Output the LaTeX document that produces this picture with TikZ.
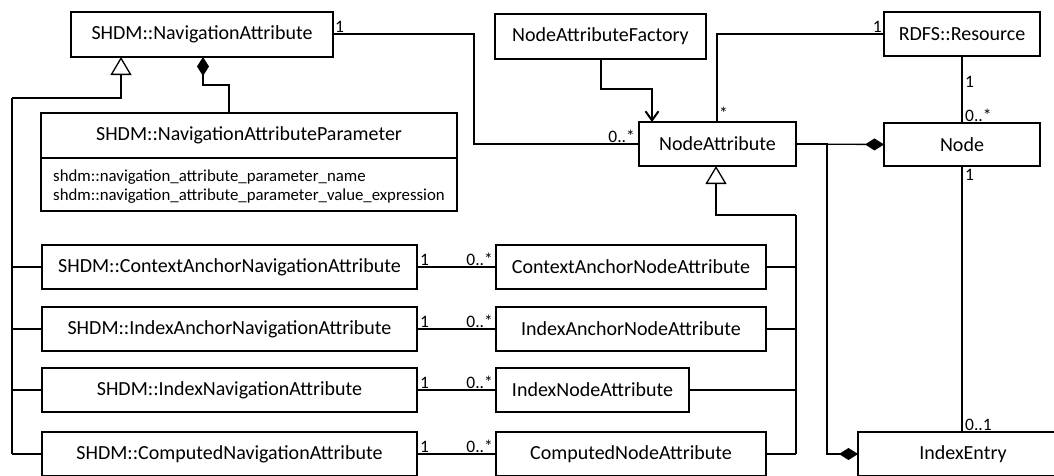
\documentclass[tikz,border=0pt]{standalone}
\usepackage{fontspec}
\setmainfont{Carlito}
\usetikzlibrary{arrows.meta}
\tikzset{
  box/.style={draw, line width=1.6pt, rectangle, inner sep=0pt, outer sep=0pt,
    minimum height=44pt, font=\fontsize{20}{24}\selectfont},
  title/.style={inner sep=0pt, font=\fontsize{20}{24}\selectfont},
  attrs/.style={inner sep=0pt, align=left, font=\fontsize{16.8}{18.8}\selectfont},
  assoc/.style={line width=1.3pt},
  genl/.style={line width=2.2pt},
  mult/.style={inner sep=1pt, font=\fontsize{17.5}{19}\selectfont},
  gentip/.style={-{Triangle[open, length=18pt, width=21pt, line width=1.3pt]}},
  comptip/.style={-{Diamond[length=19pt, width=12pt]}},
  usetip/.style={-{Straight Barb[length=9pt, width=13pt, line width=2pt]}},
}
\begin{document}
\begin{tikzpicture}[x=1pt, y=-1pt]
\useasboundingbox (0,0) rectangle (1054,475);
\clip (0,0) rectangle (1054,475);

% ---- classes ----
\node[box, minimum width=262pt, minimum height=45pt] (navattr) at (202,34.5) {SHDM::NavigationAttribute};
\node[box, minimum width=416pt, minimum height=98pt] (param) at (249,162) {};
\node[title] (paramtitle) at (249,135.5) {SHDM::NavigationAttributeParameter};
\coordinate (paramsep) at (0,158);
\draw[line width=1.6pt] (param.west |- paramsep) -- (param.east |- paramsep);
\node[attrs, anchor=west] (paramattrs) at (53,187)
  {shdm::navigation\_attribute\_parameter\_name\\shdm::navigation\_attribute\_parameter\_value\_expression};

\node[box, minimum width=211pt, minimum height=45pt] (factory) at (600.5,36.5) {NodeAttributeFactory};
\node[box, minimum width=157pt] (nodeattr) at (717.5,144) {NodeAttribute};
\node[box, minimum width=156pt] (rdfs) at (962,34) {RDFS::Resource};
\node[box, minimum width=156pt, minimum height=43pt] (node) at (962,144.5) {Node};

\node[box, minimum width=375pt] (ctxnav) at (229.5,267) {SHDM::ContextAnchorNavigationAttribute};
\node[box, minimum width=375pt] (ianav)  at (229.5,329) {SHDM::IndexAnchorNavigationAttribute};
\node[box, minimum width=375pt] (idxnav) at (229.5,390) {SHDM::IndexNavigationAttribute};
\node[box, minimum width=375pt] (cmpnav) at (229.5,454) {SHDM::ComputedNavigationAttribute};

\node[box, minimum width=270pt] (ctxnode) at (631,267) {ContextAnchorNodeAttribute};
\node[box, minimum width=270pt] (ianode)  at (631,329) {IndexAnchorNodeAttribute};
\node[box, minimum width=193pt] (idxnode) at (592.5,390) {IndexNodeAttribute};
\node[box, minimum width=270pt] (cmpnode) at (631,454) {ComputedNodeAttribute};

\node[box, minimum width=210pt] (indexentry) at (963,454) {IndexEntry};

% ---- generalisation of the navigation attributes ----
\coordinate (navspinetop) at (12,98);
\coordinate (navspinebot) at (12,454);
\draw[genl, gentip] (navspinetop) -- (121,98) -- (121,57);
\draw[genl] (navspinetop) -- (navspinebot);
\draw[assoc] (ctxnav.west) -- (ctxnav.west -| navspinetop);
\draw[assoc] (ianav.west)  -- (ianav.west  -| navspinetop);
\draw[assoc] (idxnav.west) -- (idxnav.west -| navspinetop);
\draw[assoc] (cmpnav.west) -- (cmpnav.west -| navspinetop);

% ---- parameter composition ----
\draw[assoc, comptip] (param.north -| 229,0) -- (229,85) -- (203,85) -- (203,57);

% ---- navigation attribute to node attribute ----
\draw[assoc] (navattr.east |- 0,34) -- (474,34) -- (474,144) -- (nodeattr.west);
\node[mult, anchor=south west] (m1) at (334,34) {1};
\node[mult, anchor=south east] (m2) at (636,144) {0..*};

% ---- factory ----
\draw[line width=1.6pt, usetip] (factory.south -| 601,0) -- (601,89) -- (652,89) -- (652,122);

% ---- node attribute to resource ----
\draw[assoc] (nodeattr.north -| 717,0) -- (717,34) -- (rdfs.west |- 0,34);
\node[mult, anchor=south west] (m3) at (718,121) {*};
\node[mult, anchor=south east] (m4) at (883,34) {1};

% ---- resource to node ----
\draw[assoc] (rdfs.south) -- (node.north);
\node[mult, anchor=west] (m5) at (964,82) {1};
\node[mult, anchor=south west] (m6) at (964,123) {0..*};

% ---- node composed of node attributes ----
\draw[assoc, comptip] (nodeattr.east) -- (node.west);

% ---- index entry composition ----
\coordinate (iebend) at (827,144);
\draw[assoc, comptip] (nodeattr.east) -- (iebend) -- (827,454) -- (indexentry.west);

% ---- node to index entry ----
\draw[assoc] (node.south) -- (indexentry.north -| node.south);
\node[mult, anchor=north west] (m7) at (964,168) {1};
\node[mult, anchor=south west] (m8) at (964,432) {0..1};

% ---- generalisation of the node attributes ----
\coordinate (nodespinetop) at (796,215);
\coordinate (nodespinebot) at (796,454);
\draw[genl, gentip] (nodespinetop) -- (716,215) -- (716,166);
\draw[genl] (nodespinetop) -- (nodespinebot);
\draw[assoc] (ctxnode.east) -- (ctxnode.east -| nodespinetop);
\draw[assoc] (ianode.east)  -- (ianode.east  -| nodespinetop);
\draw[assoc] (idxnode.east) -- (idxnode.east -| nodespinetop);
\draw[assoc] (cmpnode.east) -- (cmpnode.east -| nodespinetop);

% ---- associations between the two hierarchies ----
\draw[assoc] (ctxnav) -- (ctxnode);
\draw[assoc] (ianav)  -- (ianode);
\draw[assoc] (idxnav) -- (idxnode);
\draw[assoc] (cmpnav) -- (cmpnode);
\foreach \r/\y in {a/267, b/329, c/390, d/454} {
  \node[mult, anchor=south west] (one\r) at (419,\y) {1};
  \node[mult, anchor=south east] (many\r) at (494,\y) {0..*};
}
\end{tikzpicture}
\end{document}
